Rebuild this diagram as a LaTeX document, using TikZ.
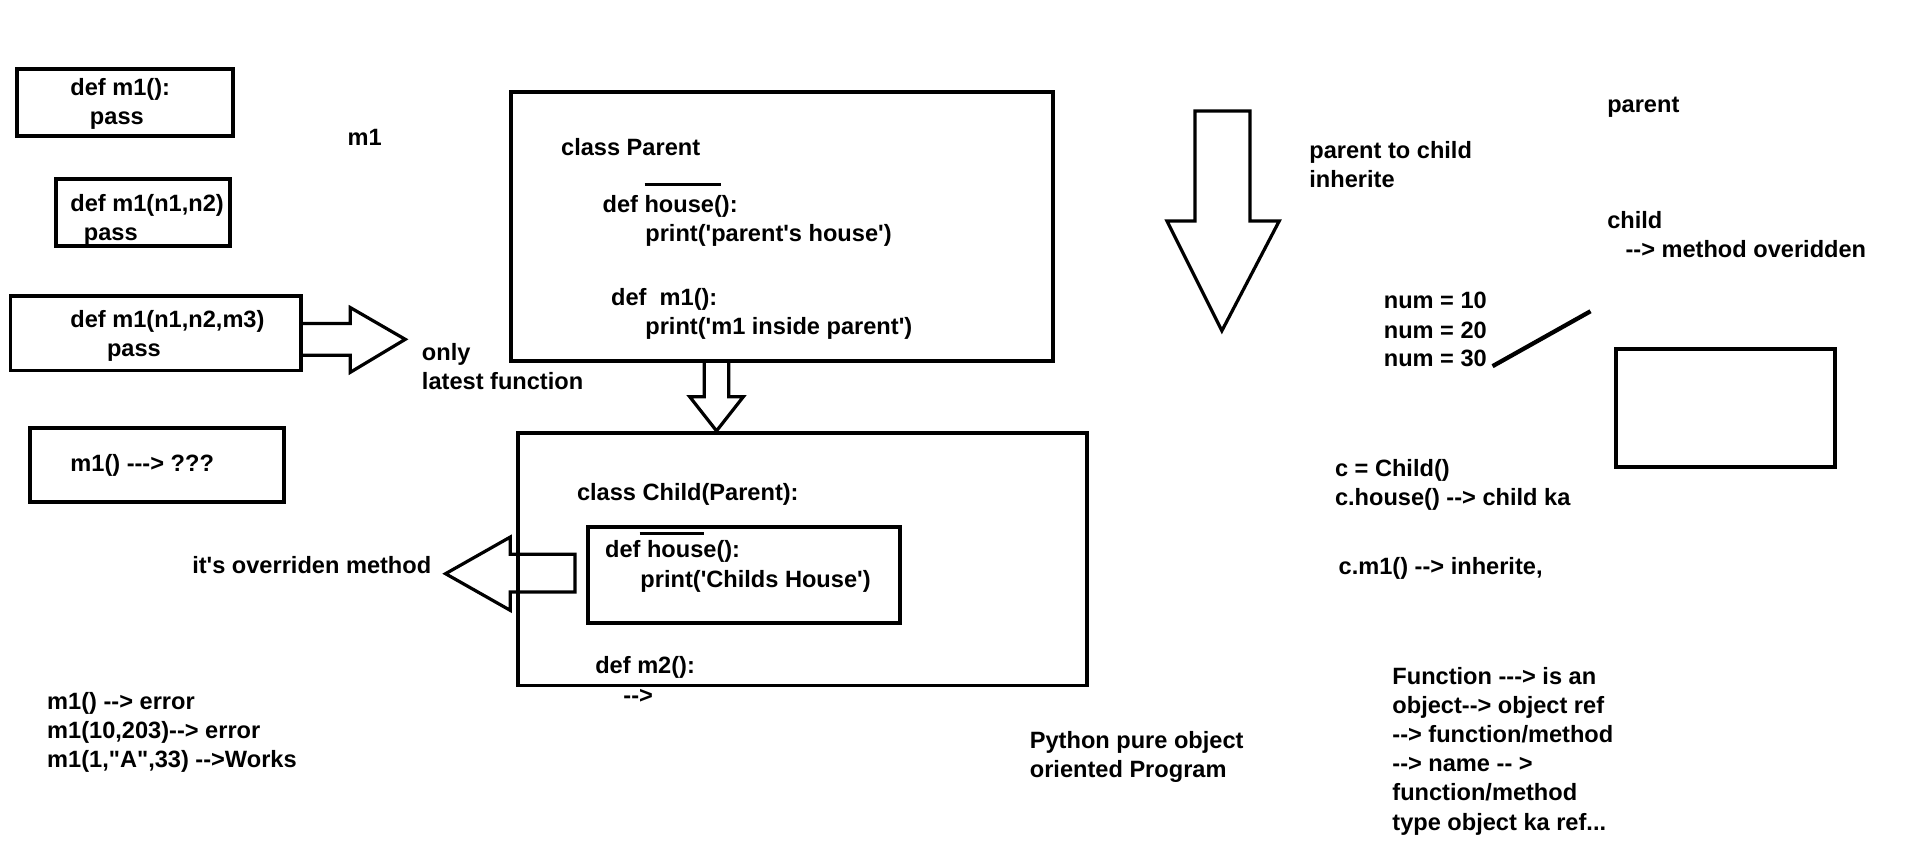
\documentclass[tikz,border=0pt]{standalone}
\usepackage{fontspec}
\newfontfamily\paintfont{Liberation Sans}
\usetikzlibrary{positioning}

\tikzset{
  box/.style={draw, line width=0.9pt, inner sep=0pt, anchor=north west},
  code/.style={inner sep=0pt, anchor=base west, align=left,
               font=\paintfont\bfseries\fontsize{5.5pt}{6.8pt}\selectfont},
  hollow/.style={draw, line width=0.75pt, line join=miter},
  stroke/.style={line width=0.8pt},
}

\begin{document}
\begin{tikzpicture}[x=0.1mm, y=-0.1mm]
\useasboundingbox (0,0) rectangle (1568,710);

\begin{scope}
    \node[box, minimum width=17.7mm, minimum height=5.5mm] (defone)     at (12,55)    {};
    \node[box, minimum width=14.3mm, minimum height=5.5mm] (deftwo)     at (44,145)   {};
    \node[box, minimum width=23.8mm, minimum height=6.1mm] (defthree)   at (7,241)    {};
    \node[box, minimum width=20.8mm, minimum height=6.1mm] (callbox)    at (23,349)   {};
    \node[box, minimum width=44.4mm, minimum height=22mm]  (parent)     at (417,74)   {};
    \node[box, minimum width=46.6mm, minimum height=20.7mm](child)      at (423,353)  {};
    \node[box, minimum width=25.6mm, minimum height=7.9mm] (childhouse) at (480,430)  {};
    \node[box, minimum width=18mm,   minimum height=9.7mm] (emptybox)   at (1322,284) {};
\end{scope}

% multi-line nodes sit on the baseline of their last line
\begin{scope}[yshift=-0.2mm, every node/.style={code}]
    \node (defonetxt)   at (57,100)  {def m1():\\\hspace*{1.6mm}pass};
    \node (mone)        at (284,117) {m1};
    \node (deftwotxt)   at (57,195)  {def m1(n1,n2)\\\hspace*{1.1mm}pass};
    \node (defthreetxt) at (57,290)  {def m1(n1,n2,m3)\\\hspace*{3mm}pass};
    \node (calltxt)     at (57,384)  {m1() ---> ???};
    \node (onlylatest)  at (345,317) {only\\latest function};
    \node[anchor=base east] (overriden) at (354,468) {it's overriden method};
    \node (errors)      at (38,627)  {m1() --> error\\m1(10,203)--> error\\m1(1,"A",33) -->Works};

    \node (classparent) at (459,125) {class Parent};
    \node (phouse)      at (493,196) {def house():\\\hspace*{3.5mm}print('parent's house')};
    \node (pmone)       at (500,272) {def\ \ m1():\\\hspace*{2.8mm}print('m1 inside parent')};

    \node (classchild)  at (472,408) {class Child(Parent):};
    \node (chouse)      at (495,479) {def house():\\\hspace*{2.9mm}print('Childs House')};
    \node (cmtwo)       at (487,574) {def m2():\\\hspace*{2.3mm}-->};

    \node (inherit)     at (1072,152) {parent to child\\inherite};
    \node (parentlbl)   at (1316,90)  {parent};
    \node (childlbl)    at (1316,209) {child\\\hspace*{1.5mm}--> method overidden};
    \node (nums)        at (1133,275) {num = 10\\num = 20};
    \node (numthree)    at (1133,298) {num = 30};
    \node (cobj)        at (1093,412) {c = Child()\\c.house() --> child ka};
    \node (cmcall)      at (1096,469) {c.m1() --> inherite,};
    \node (python)      at (843,635)  {Python pure object\\oriented Program};
    \node (funcobj)     at (1140,678) {Function ---> is an\\object--> object ref\\--> function/method\\--> name -- >\\function/method\\type object ka ref...};
\end{scope}

\draw[stroke] (528,151) -- (591,151);
\draw[stroke] (524,437) -- (577,437);

\draw[hollow] (defthree.east |- 0,265) -- (287,265) -- (287,252) -- (332,278) -- (287,305) -- (287,291) -- (defthree.east |- 0,291);
\draw[hollow] (parent.south -| 577,0) -- (577,325) -- (565,325) -- (587,353) -- (609,325) -- (597,325) -- (parent.south -| 597,0);
\draw[hollow] (418,454) -- (471,454) -- (471,485) -- (418,485) -- (418,500) -- (365,470) -- (418,440) -- cycle;
\draw[hollow] (979,91) -- (1024,91) -- (1024,181) -- (1048,181) -- (1001,271) -- (956,181) -- (979,181) -- cycle;

\coordinate (slashend) at (1303,255);
\draw[line width=1pt] ([xshift=0.4mm]numthree.base east) -- (slashend);
\end{tikzpicture}
\end{document}
